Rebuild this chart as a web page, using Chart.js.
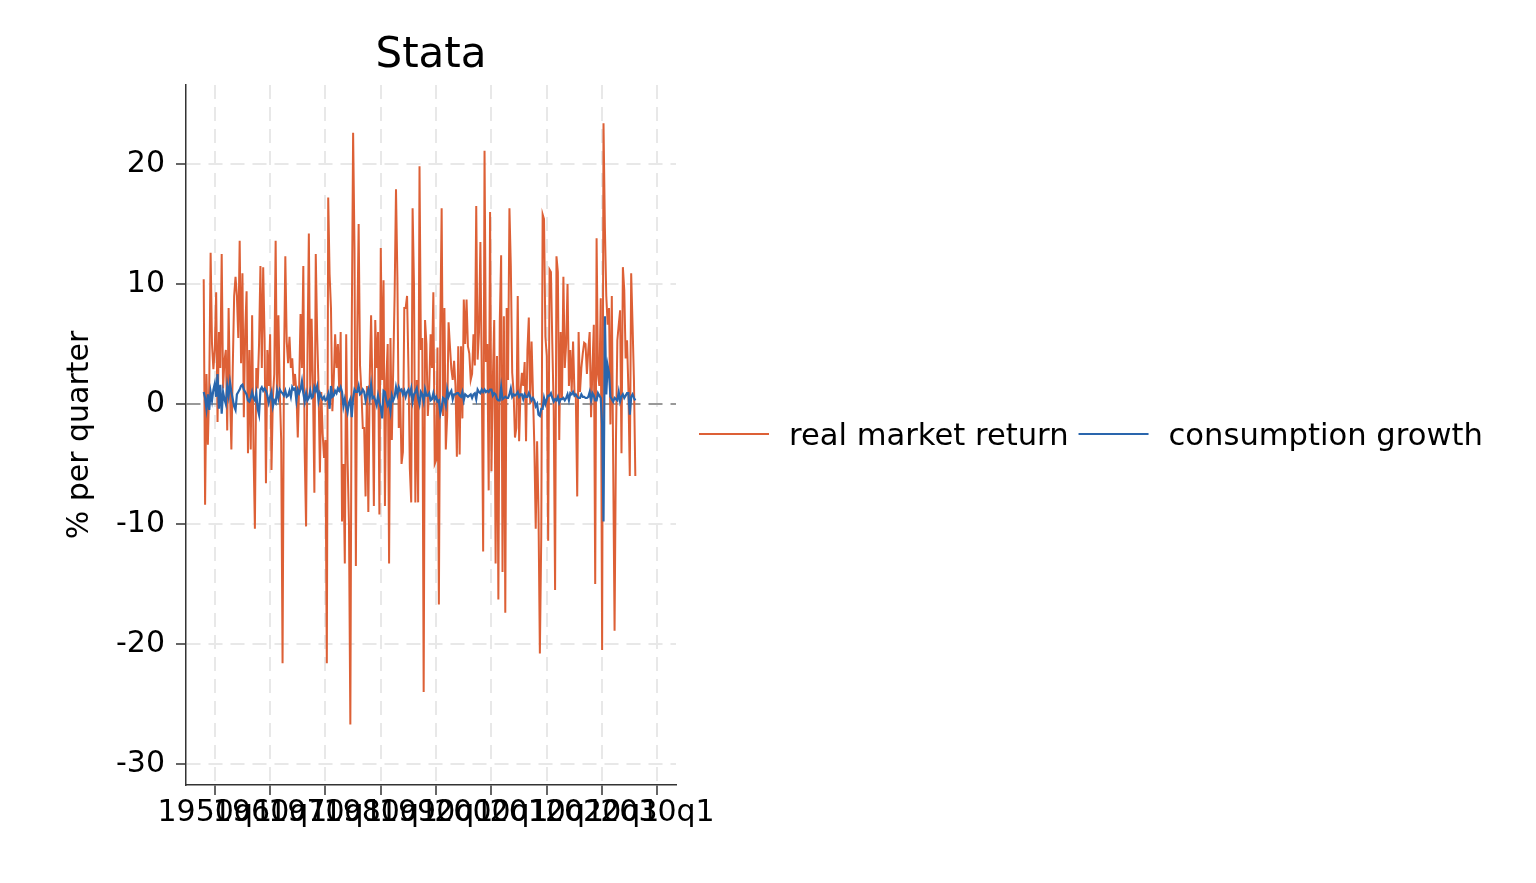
<!DOCTYPE html>
<html>
<head>
<meta charset="utf-8">
<script src="https://cdn.jsdelivr.net/npm/chart.js@4.4.1/dist/chart.umd.min.js"></script>
<style>
html,body{margin:0;padding:0;background:#fff;}
#wrap{width:1536px;height:883px;position:relative;}
</style>
</head>
<body>
<div id="wrap"><canvas id="c"></canvas></div>
<script>
const chartTitle = 'Stata';
const yAxisTitle = '% per quarter';
const seriesNames = ['real market return', 'consumption growth'];
const seriesColors = ['#dd6036', '#2a66ad'];
const startYear = 1948; // first quarter: 1948q1

// real market return, % per quarter (one row per year, q1..q4)
const realReturn = [
  10.4, -8.4, 2.5, -3.4,
  1.5, 12.6, 5.0, 2.9,
  4.5, 9.3, -1.5, 6.0,
  3.0, 12.5, 1.3, 3.6,
  4.5, -2.2, 8.0, 1.0,
  -3.8, 3.0, 9.0, 10.6,
  9.0, 5.5, 13.6, 3.4,
  10.9, -1.1, 6.1, 9.4,
  -4.1, 4.5, -3.8, 7.4,
  -3.8, -10.4, 3.0, 1.3,
  5.0, 11.5, 3.0, 11.4,
  5.5, -6.6, 4.5, 1.5,
  5.8, -5.5, 0.5, 2.5,
  13.6, 0.5, 7.4, 1.0,
  -3.0, -21.6, 3.0, 12.3,
  5.2, 3.4, 5.6, 3.0,
  3.8, 1.5, 2.5, 1.0,
  -2.8, 1.5, 7.5, 3.0,
  11.5, -4.0, -10.2, 4.0,
  14.2, 1.0, 7.1, 1.3,
  -7.4, 12.5, 5.8, 1.5,
  -5.7, 1.0, -2.5, -4.5,
  -3.0, -21.6, 17.2, 10.8,
  8.0, -0.6, 2.0, 5.8,
  3.0, 5.0, 1.0, 6.0,
  -9.8, -5.0, -13.3, 5.8,
  -4.7, -10.0, -26.7, 6.0,
  22.6, 13.0, -13.5, 6.0,
  15.0, 3.2, 1.0, -2.0,
  -2.0, -7.7, 1.5, -9.0,
  2.0, 7.4, 1.0, -8.5,
  7.0, 3.0, 6.0, -9.2,
  13.0, 2.0, 10.3, -8.5,
  2.0, 5.0, -13.3, 5.5,
  -3.0, 3.0, 9.0, 17.9,
  10.6, -2.0, 1.0, -5.0,
  -4.0, 8.0, 8.0, 9.0,
  3.0, -5.4, -8.2, 16.3,
  10.0, -8.2, 2.0, -8.2,
  19.8, 4.5, 5.5, -24.0,
  7.0, 5.0, -1.0, 1.3,
  5.8, 3.0, 9.3, -5.0,
  -4.7, 4.7, -16.7, 6.0,
  16.3, -1.0, 8.0, -3.8,
  -1.0, 6.8, 4.8, 2.9,
  2.0, 3.6, 1.5, -4.4,
  4.8, -4.2, 4.8, -1.2,
  8.7, 5.0, 8.7, 4.8,
  4.2, 2.0, 2.5, 5.8,
  3.2, 16.5, 3.7, 6.0,
  13.5, 2.5, -12.3, 21.1,
  3.5, 5.0, -7.2, 16.0,
  -5.6, 2.0, 7.0, -13.3,
  4.0, -16.3, 6.8, 12.4,
  -14.0, 7.3, -17.4, 8.0,
  2.0, 16.3, 11.5, 2.6,
  1.0, -2.8, -2.0, 9.0,
  -3.1, 1.0, 2.6, 1.5,
  3.5, -3.1, 4.5, 7.2,
  0.0, 5.2, 1.0, -3.5,
  -10.4, -3.1, -9.0, -20.8,
  -11.0, 15.8, 15.4, 5.6,
  4.0, -11.4, 11.2, 11.0,
  5.0, -0.5, -15.5, 12.3,
  11.0, -3.0, 6.0, 0.5,
  10.6, 3.0, 5.0, 10.0,
  1.5, 4.5, 1.0, 5.2,
  1.0, 0.5, -7.7, 6.0,
  1.0, 3.0, 4.2, 5.1,
  5.0, 2.5, 4.5, 6.0,
  -1.1, 3.0, 6.6, -15.0,
  13.8, 2.5, 1.5, 8.8,
  -20.5, 23.4, 14.7, 9.0,
  6.6, 8.0, -1.7, 9.0,
  -5.0, -18.9, -3.0, 5.3,
  6.6, 7.8, -4.1, 11.4,
  9.5, 3.8, 5.3, 1.2,
  -6.0, 10.9, 6.6, 2.0,
  -6.0
];

// consumption growth, % per quarter
const consGrowth = [
  1.0, 0.5, -0.4, 0.8,
  -0.5, 1.0, 0.3, 1.2,
  1.7, 0.6, 2.5, -0.4,
  1.6, -0.8, 1.0, 0.4,
  0.0, 1.5, 0.7, 1.8,
  1.0, 0.4, -0.2, -0.5,
  0.8, 1.0, 1.2, 1.5,
  1.6, 1.2, 1.0, 0.8,
  0.3, 0.2, 0.5, 1.0,
  0.5, 0.3, 0.9, -0.4,
  -0.9, 1.2, 1.4, 1.1,
  1.3, 1.1, 0.7, 0.1,
  0.6, 1.0, -0.2, 0.3,
  0.1, 1.1, 0.5, 1.2,
  1.0, 0.9, 0.7, 1.1,
  0.6, 0.7, 1.1, 0.6,
  1.4, 1.2, 1.3, 0.3,
  1.2, 0.9, 1.2, 1.9,
  0.9, 0.2, 0.9, 0.3,
  0.5, 1.1, 0.5, 0.6,
  1.4, 1.1, 1.5, 0.3,
  0.9, 0.6, 0.4, 0.6,
  0.3, 0.4, 0.8, -0.4,
  1.5, 0.6, 0.7, 1.1,
  0.9, 1.3, 1.1, 1.4,
  1.0, -0.2, 0.4, -0.2,
  -0.7, 0.1, 0.4, -1.1,
  0.5, 1.2, 1.0, 1.0,
  1.5, 0.8, 0.9, 1.2,
  1.0, 0.3, 0.8, 1.2,
  0.5, 1.6, 0.5, 0.6,
  0.3, -0.1, 0.7, 0.1,
  -0.3, -1.2, 1.1, 1.0,
  0.3, -0.1, 0.2, -0.6,
  0.7, 0.3, 0.6, 1.4,
  0.8, 1.4, 1.1, 1.2,
  0.8, 1.1, 0.6, 1.0,
  1.2, 0.8, 1.3, 0.2,
  0.8, 1.0, 1.3, 0.5,
  0.0, 1.0, 0.8, 0.2,
  1.2, 0.7, 0.7, 0.9,
  0.3, 0.4, 0.9, 0.4,
  0.6, 0.2, 0.3, -0.8,
  -0.3, 0.5, 0.4, -0.1,
  1.2, 0.6, 0.9, 1.1,
  0.4, 0.8, 0.8, 0.9,
  0.9, 0.7, 0.6, 1.0,
  0.3, 0.8, 0.7, 0.6,
  0.7, 0.8, 0.5, 0.8,
  0.9, 0.4, 1.2, 1.0,
  0.9, 1.2, 1.0, 1.2,
  1.0, 1.1, 1.0, 1.2,
  1.2, 0.7, 0.9, 0.8,
  0.4, 0.3, 0.3, 1.4,
  0.4, 0.5, 0.6, 0.5,
  0.5, 0.8, 1.3, 0.6,
  0.8, 0.7, 0.8, 1.0,
  0.6, 0.8, 0.8, 0.4,
  0.8, 0.6, 0.6, 0.9,
  0.6, 0.3, 0.5, 0.3,
  -0.2, 0.0, -0.9, -1.0,
  -0.4, -0.4, 0.5, 0.0,
  0.4, 0.7, 0.7, 0.9,
  0.5, 0.2, 0.4, 0.3,
  0.6, 0.1, 0.4, 0.4,
  0.5, 0.3, 0.5, 0.8,
  0.3, 0.9, 0.8, 1.0,
  0.7, 0.8, 0.6, 0.5,
  0.5, 0.8, 0.6, 0.6,
  0.5, 0.5, 0.6, 1.0,
  0.3, 0.9, 0.7, 0.3,
  0.3, 0.9, 0.7, 0.5,
  -1.7, -9.8, 7.3, 0.8,
  3.2, 2.6, 0.6, 0.4,
  0.2, 0.5, 0.4, 0.3,
  1.0, 0.2, 0.6, 0.8,
  0.5, 0.7, 0.9, 0.9,
  -0.9, 0.6, 0.8, 0.5,
  0.3
];

const xTickYears = [1950, 1960, 1970, 1980, 1990, 2000, 2010, 2020, 2030];
const xTickLabels = ['1950q1', '1960q1', '1970q1', '1980q1', '1990q1', '2000q1', '2010q1', '2020q1', '2030q1'];
const yTicks = [-30, -20, -10, 0, 10, 20];
const yTickLabels = ['-30', '-20', '-10', '0', '10', '20'];

const FONT = '"DejaVu Sans", "Noto Sans", sans-serif';

// quarter positions in decimal years
const quarterPos = realReturn.map((_, i) => startYear + i / 4);
const toPoints = arr => arr.map((v, i) => ({x: quarterPos[i], y: v}));

const decor = {
  id: 'decor',
  afterDraw(chart) {
    const {ctx, chartArea} = chart;
    ctx.save();
    ctx.fillStyle = '#000';
    ctx.font = '42px ' + FONT;
    ctx.textAlign = 'center';
    ctx.textBaseline = 'alphabetic';
    ctx.fillText(chartTitle, (chartArea.left + chartArea.right) / 2, 67);

    // legend, in one row to the right of the plot
    ctx.font = '30.6px ' + FONT;
    ctx.textAlign = 'left';
    let x = chartArea.right + 23;
    const y = 434;
    chart.data.datasets.forEach(ds => {
      ctx.strokeStyle = ds.borderColor;
      ctx.lineWidth = 2;
      ctx.beginPath();
      ctx.moveTo(x, y);
      ctx.lineTo(x + 70, y);
      ctx.stroke();
      x += 90;
      ctx.fillText(ds.label, x, y + 11);
      x += ctx.measureText(ds.label).width + 10;
    });
    ctx.restore();
  }
};

const gridColor = '#e8e8e8';
const axisColor = '#333333';

new Chart(document.getElementById('c'), {
  type: 'line',
  data: {
    datasets: [
      {
        label: seriesNames[0],
        data: toPoints(realReturn),
        borderColor: seriesColors[0],
        backgroundColor: seriesColors[0],
        borderWidth: 2,
        pointRadius: 0,
        tension: 0,
        order: 2
      },
      {
        label: seriesNames[1],
        data: toPoints(consGrowth),
        borderColor: seriesColors[1],
        backgroundColor: seriesColors[1],
        borderWidth: 2.2,
        pointRadius: 0,
        tension: 0,
        order: 1
      }
    ]
  },
  options: {
    responsive: true,
    maintainAspectRatio: false,
    animation: false,
    layout: {padding: {left: 0, top: 85, right: 860, bottom: 0}},
    plugins: {
      legend: {display: false},
      title: {display: false},
      tooltip: {enabled: false}
    },
    scales: {
      x: {
        type: 'linear',
        min: 1944.8,
        max: 2033.35,
        afterBuildTicks: s => { s.ticks = xTickYears.map(v => ({value: v})); },
        afterFit: s => { s.height = 98; },
        ticks: {
          autoSkip: false,
          maxRotation: 0,
          minRotation: 0,
          padding: 0,
          color: '#000',
          font: {family: FONT, size: 30},
          callback: (v, i) => xTickLabels[i]
        },
        grid: {
          color: gridColor,
          lineWidth: 2,
          tickLength: 10,
          tickColor: axisColor,
          tickWidth: 1.5,
          tickBorderDash: []
        },
        border: {display: true, color: axisColor, width: 1.5, dash: [14, 8]}
      },
      y: {
        min: -31.75,
        max: 26.58,
        afterBuildTicks: s => { s.ticks = yTicks.map(v => ({value: v})); },
        afterFit: s => { s.width = 186; },
        ticks: {
          padding: 11,
          color: '#000',
          font: {family: FONT, size: 30},
          callback: (v, i) => yTickLabels[i]
        },
        grid: {
          color: c => (c.tick && c.tick.value === 0) ? '#999999' : gridColor,
          lineWidth: 2,
          tickLength: 10,
          tickColor: axisColor,
          tickWidth: 1.5,
          tickBorderDash: []
        },
        border: {display: true, color: axisColor, width: 1.5, dash: [14, 8]},
        title: {
          display: true,
          text: yAxisTitle,
          color: '#000',
          font: {family: FONT, size: 30},
          padding: {top: 62, bottom: 0}
        }
      }
    }
  },
  plugins: [decor]
});
</script>
</body>
</html>
